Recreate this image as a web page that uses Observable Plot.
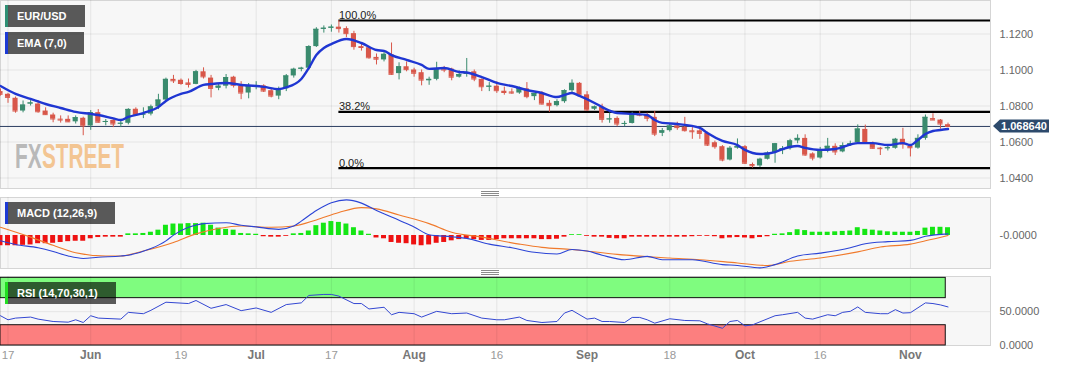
<!DOCTYPE html>
<html><head><meta charset="utf-8">
<script src="https://cdn.jsdelivr.net/npm/d3@7"></script>
<script src="https://cdn.jsdelivr.net/npm/@observablehq/plot@0.6"></script>
<style>
body{margin:0;background:#fff;font-family:"Liberation Sans",Arial,sans-serif;}
#chart{position:relative;width:1067px;height:370px;overflow:hidden;background:#fff;}
.tag{position:absolute;left:5px;height:22px;background:rgba(0,0,0,0.64);color:#fff;font:bold 11px "Liberation Sans",Arial,sans-serif;line-height:22px;padding-left:12px;box-sizing:border-box;white-space:nowrap;}
.tag i{position:absolute;left:0;top:0;bottom:0;width:3px;}
.grip{position:absolute;left:481px;width:18px;height:1px;background:#8a8a8a;}
</style></head>
<body><div id="chart"></div>
<script>
// ---------- data (EUR/USD daily, 2023) ----------
const dates = [
"2023-05-16","2023-05-17","2023-05-18","2023-05-19","2023-05-22","2023-05-23","2023-05-24","2023-05-25","2023-05-26","2023-05-29","2023-05-30","2023-05-31",
"2023-06-01","2023-06-02","2023-06-05","2023-06-06","2023-06-07","2023-06-08","2023-06-09","2023-06-12","2023-06-13","2023-06-14","2023-06-15","2023-06-16","2023-06-19","2023-06-20","2023-06-21","2023-06-22","2023-06-23","2023-06-26","2023-06-27","2023-06-28","2023-06-29","2023-06-30",
"2023-07-03","2023-07-04","2023-07-05","2023-07-06","2023-07-07","2023-07-10","2023-07-11","2023-07-12","2023-07-13","2023-07-14","2023-07-17","2023-07-18","2023-07-19","2023-07-20","2023-07-21","2023-07-24","2023-07-25","2023-07-26","2023-07-27","2023-07-28","2023-07-31",
"2023-08-01","2023-08-02","2023-08-03","2023-08-04","2023-08-07","2023-08-08","2023-08-09","2023-08-10","2023-08-11","2023-08-14","2023-08-15","2023-08-16","2023-08-17","2023-08-18","2023-08-21","2023-08-22","2023-08-23","2023-08-24","2023-08-25","2023-08-28","2023-08-29","2023-08-30","2023-08-31",
"2023-09-01","2023-09-04","2023-09-05","2023-09-06","2023-09-07","2023-09-08","2023-09-11","2023-09-12","2023-09-13","2023-09-14","2023-09-15","2023-09-18","2023-09-19","2023-09-20","2023-09-21","2023-09-22","2023-09-25","2023-09-26","2023-09-27","2023-09-28","2023-09-29",
"2023-10-02","2023-10-03","2023-10-04","2023-10-05","2023-10-06","2023-10-09","2023-10-10","2023-10-11","2023-10-12","2023-10-13","2023-10-16","2023-10-17","2023-10-18","2023-10-19","2023-10-20","2023-10-23","2023-10-24","2023-10-25","2023-10-26","2023-10-27","2023-10-30","2023-10-31",
"2023-11-01","2023-11-02","2023-11-03","2023-11-06","2023-11-07","2023-11-08"];

const open = [1.0880,1.0865,1.0843,1.0772,1.0811,1.0811,1.0772,1.0750,1.0727,1.0726,1.0712,1.0732,
1.0689,1.0763,1.0710,1.0720,1.0700,1.0704,1.0782,1.0750,1.0755,1.0795,1.0833,1.0948,1.0943,1.0928,1.0920,1.0990,1.0955,1.0898,1.0910,1.0960,1.0911,1.0872,
1.0908,1.0912,1.0885,1.0855,1.0895,1.0967,1.1004,1.1010,1.1130,1.1226,1.1232,1.1238,1.1230,1.1202,1.1130,1.1124,1.1070,1.1056,1.1085,1.0980,1.1018,
1.1000,1.0985,1.0940,1.0948,1.1012,1.1005,1.0960,1.0975,1.0990,1.0948,1.0905,1.0910,1.0882,1.0878,1.0872,1.0895,1.0852,1.0872,1.0815,1.0802,1.0824,1.0885,1.0926,
1.0862,1.0782,1.0795,1.0724,1.0731,1.0700,1.0703,1.0752,1.0752,1.0737,1.0648,1.0663,1.0690,1.0682,1.0662,1.0662,1.0648,1.0596,1.0574,1.0500,1.0566,
1.0574,1.0475,1.0467,1.0504,1.0540,1.0552,1.0563,1.0606,1.0620,1.0534,1.0511,1.0557,1.0576,1.0545,1.0580,1.0596,1.0670,1.0590,1.0566,1.0563,1.0565,1.0615,
1.0575,1.0566,1.0620,1.0730,1.0722,1.0696];
const high = [1.0895,1.0870,1.0850,1.0828,1.0830,1.0830,1.0790,1.0760,1.0745,1.0745,1.0745,1.0738,
1.0775,1.0780,1.0725,1.0730,1.0715,1.0785,1.0790,1.0790,1.0805,1.0865,1.0955,1.0970,1.0950,1.0950,1.0998,1.1012,1.0970,1.0925,1.0975,1.0965,1.0935,1.0925,
1.0935,1.0918,1.0895,1.0905,1.0975,1.1010,1.1015,1.1135,1.1235,1.1245,1.1250,1.1275,1.1240,1.1215,1.1145,1.1130,1.1089,1.1100,1.1150,1.1040,1.1045,
1.1010,1.1000,1.0960,1.1043,1.1020,1.1010,1.0995,1.1064,1.1000,1.0950,1.0930,1.0935,1.0905,1.0895,1.0905,1.0930,1.0865,1.0880,1.0830,1.0835,1.0890,1.0945,1.0930,
1.0880,1.0800,1.0810,1.0761,1.0740,1.0715,1.0765,1.0770,1.0760,1.0770,1.0675,1.0698,1.0710,1.0737,1.0680,1.0670,1.0655,1.0605,1.0580,1.0575,1.0617,
1.0580,1.0483,1.0510,1.0545,1.0592,1.0575,1.0615,1.0640,1.0640,1.0540,1.0570,1.0620,1.0590,1.0595,1.0605,1.0695,1.0694,1.0600,1.0570,1.0580,1.0620,1.0676,
1.0580,1.0640,1.0750,1.0757,1.0725,1.0705];
const low = [1.0855,1.0815,1.0760,1.0762,1.0800,1.0760,1.0748,1.0707,1.0705,1.0708,1.0700,1.0635,
1.0665,1.0705,1.0690,1.0680,1.0680,1.0695,1.0745,1.0730,1.0745,1.0780,1.0820,1.0925,1.0915,1.0900,1.0918,1.0950,1.0845,1.0885,1.0895,1.0900,1.0835,1.0840,
1.0890,1.0875,1.0845,1.0835,1.0880,1.0955,1.0990,1.1000,1.1125,1.1205,1.1210,1.1205,1.1180,1.1110,1.1105,1.1060,1.1028,1.1045,1.0970,1.0945,1.0990,
1.0960,1.0912,1.0915,1.0940,1.0985,1.0940,1.0955,1.0960,1.0935,1.0880,1.0880,1.0870,1.0860,1.0865,1.0865,1.0840,1.0830,1.0805,1.0765,1.0795,1.0815,1.0875,1.0850,
1.0770,1.0775,1.0705,1.0704,1.0685,1.0685,1.0700,1.0740,1.0712,1.0630,1.0630,1.0655,1.0665,1.0655,1.0615,1.0615,1.0575,1.0560,1.0490,1.0495,1.0560,
1.0475,1.0455,1.0458,1.0500,1.0482,1.0530,1.0555,1.0590,1.0520,1.0495,1.0505,1.0540,1.0525,1.0540,1.0575,1.0590,1.0587,1.0560,1.0525,1.0550,1.0560,1.0560,
1.0517,1.0560,1.0610,1.0720,1.0671,1.0680];
const close = [1.0865,1.0848,1.0772,1.0805,1.0817,1.0768,1.0752,1.0728,1.0722,1.0712,1.0735,1.0689,
1.0763,1.0710,1.0714,1.0700,1.0704,1.0781,1.0752,1.0755,1.0795,1.0833,1.0948,1.0940,1.0925,1.0920,1.0990,1.0962,1.0898,1.0910,1.0958,1.0915,1.0872,1.0910,
1.0912,1.0883,1.0855,1.0895,1.0967,1.1004,1.1010,1.1130,1.1226,1.1232,1.1238,1.1230,1.1202,1.1130,1.1125,1.1068,1.1060,1.1087,1.0976,1.1018,1.1002,
1.0982,1.0944,1.0948,1.1008,1.1000,1.0960,1.0975,1.0982,1.0950,1.0907,1.0910,1.0885,1.0875,1.0872,1.0898,1.0852,1.0870,1.0811,1.0802,1.0824,1.0885,1.0926,1.0862,
1.0778,1.0795,1.0726,1.0728,1.0700,1.0703,1.0756,1.0749,1.0732,1.0644,1.0662,1.0689,1.0680,1.0663,1.0657,1.0648,1.0583,1.0574,1.0500,1.0565,1.0574,
1.0482,1.0468,1.0504,1.0538,1.0590,1.0563,1.0606,1.0620,1.0528,1.0511,1.0557,1.0576,1.0545,1.0580,1.0590,1.0672,1.0592,1.0565,1.0563,1.0568,1.0615,1.0589,
1.0568,1.0620,1.0737,1.0722,1.0700,1.0686];

const ema7 = [["2023-05-16",1.0911],["2023-05-18",1.0867],["2023-05-22",1.0839],["2023-05-24",1.0811],["2023-05-26",1.0789],["2023-05-30",1.0767],["2023-06-01",1.0756],["2023-06-02",1.0750],["2023-06-06",1.0731],["2023-06-07",1.0722],["2023-06-08",1.0739],["2023-06-12",1.0761],["2023-06-14",1.0794],["2023-06-15",1.0828],["2023-06-19",1.0867],["2023-06-20",1.0878],["2023-06-22",1.0917],["2023-06-23",1.0922],["2023-06-27",1.0928],["2023-06-29",1.0917],["2023-07-03",1.0911],["2023-07-04",1.0906],["2023-07-06",1.0894],["2023-07-07",1.0903],["2023-07-11",1.0950],["2023-07-12",1.1011],["2023-07-13",1.1083],["2023-07-14",1.1122],["2023-07-17",1.1144],["2023-07-19",1.1172],["2023-07-21",1.1150],["2023-07-25",1.1111],["2023-07-26",1.1106],["2023-07-27",1.1083],["2023-07-31",1.1056],["2023-08-02",1.1028],["2023-08-03",1.1006],["2023-08-07",1.1011],["2023-08-09",1.0989],["2023-08-10",1.0986],["2023-08-14",1.0961],["2023-08-16",1.0928],["2023-08-18",1.0911],["2023-08-22",1.0889],["2023-08-24",1.0872],["2023-08-28",1.0850],["2023-08-29",1.0861],["2023-08-30",1.0872],["2023-08-31",1.0856],["2023-09-04",1.0817],["2023-09-05",1.0794],["2023-09-07",1.0761],["2023-09-11",1.0756],["2023-09-13",1.0750],["2023-09-14",1.0722],["2023-09-15",1.0706],["2023-09-19",1.0700],["2023-09-22",1.0678],["2023-09-25",1.0650],["2023-09-27",1.0606],["2023-09-29",1.0583],["2023-10-02",1.0556],["2023-10-04",1.0533],["2023-10-06",1.0544],["2023-10-09",1.0561],["2023-10-11",1.0578],["2023-10-12",1.0567],["2023-10-16",1.0556],["2023-10-18",1.0561],["2023-10-23",1.0594],["2023-10-25",1.0594],["2023-10-27",1.0583],["2023-10-31",1.0594],["2023-11-01",1.0583],["2023-11-02",1.0611],["2023-11-03",1.0644],["2023-11-06",1.0661],["2023-11-07",1.0667],["2023-11-08",1.0672]];

const macdLine = [["2023-05-16",-0.0013],["2023-05-18",-0.0022],["2023-05-23",-0.0030],["2023-05-25",-0.0039],["2023-05-29",-0.0050],["2023-05-31",-0.0056],["2023-06-02",-0.0053],["2023-06-07",-0.0050],["2023-06-08",-0.0048],["2023-06-13",-0.0032],["2023-06-15",-0.0013],["2023-06-16",0.0001],["2023-06-20",0.0020],["2023-06-22",0.0029],["2023-06-27",0.0031],["2023-06-29",0.0025],["2023-07-03",0.0021],["2023-07-06",0.0015],["2023-07-10",0.0023],["2023-07-11",0.0035],["2023-07-13",0.0061],["2023-07-17",0.0080],["2023-07-19",0.0087],["2023-07-21",0.0079],["2023-07-25",0.0061],["2023-07-28",0.0037],["2023-08-01",0.0021],["2023-08-03",0.0002],["2023-08-08",-0.0003],["2023-08-10",-0.0007],["2023-08-15",-0.0021],["2023-08-18",-0.0030],["2023-08-23",-0.0041],["2023-08-28",-0.0045],["2023-08-30",-0.0034],["2023-09-01",-0.0038],["2023-09-05",-0.0048],["2023-09-08",-0.0059],["2023-09-13",-0.0051],["2023-09-15",-0.0059],["2023-09-21",-0.0059],["2023-09-27",-0.0071],["2023-09-29",-0.0073],["2023-10-04",-0.0079],["2023-10-06",-0.0071],["2023-10-11",-0.0050],["2023-10-16",-0.0043],["2023-10-20",-0.0030],["2023-10-24",-0.0020],["2023-10-27",-0.0015],["2023-11-01",-0.0012],["2023-11-03",-0.0002],["2023-11-08",0.0004]];

const macdSignal = [["2023-05-16",0.0020],["2023-05-22",-0.0004],["2023-05-25",-0.0024],["2023-05-30",-0.0042],["2023-06-05",-0.0050],["2023-06-07",-0.0050],["2023-06-12",-0.0038],["2023-06-16",-0.0017],["2023-06-21",0.0004],["2023-06-26",0.0017],["2023-06-29",0.0023],["2023-07-05",0.0020],["2023-07-10",0.0023],["2023-07-13",0.0038],["2023-07-18",0.0056],["2023-07-21",0.0068],["2023-07-25",0.0065],["2023-07-28",0.0050],["2023-08-03",0.0029],["2023-08-08",0.0008],["2023-08-14",-0.0004],["2023-08-21",-0.0021],["2023-08-24",-0.0029],["2023-08-30",-0.0034],["2023-09-07",-0.0046],["2023-09-18",-0.0055],["2023-09-22",-0.0059],["2023-09-29",-0.0067],["2023-10-05",-0.0073],["2023-10-10",-0.0063],["2023-10-16",-0.0055],["2023-10-23",-0.0040],["2023-10-26",-0.0028],["2023-11-01",-0.0021],["2023-11-03",-0.0013],["2023-11-08",0.0000]];

const macdHist = [-0.0025,-0.0025,-0.0025,-0.0024,-0.0023,-0.0020,-0.0020,-0.0019,-0.0017,-0.0015,-0.0014,-0.0014,
-0.0008,-0.0005,-0.0004,-0.0004,-0.0004,0.0004,0.0004,0.0005,0.0008,0.0013,0.0025,0.0028,0.0028,0.0029,0.0029,0.0030,0.0025,0.0018,0.0015,0.0013,0.0005,0.0004,
0.0003,-0.0003,-0.0004,-0.0004,-0.0002,0.0004,0.0005,0.0011,0.0024,0.0030,0.0034,0.0032,0.0028,0.0019,0.0011,0.0003,-0.0006,-0.0008,-0.0017,-0.0019,-0.0020,
-0.0023,-0.0025,-0.0023,-0.0019,-0.0017,-0.0013,-0.0010,-0.0008,-0.0010,-0.0012,-0.0012,-0.0010,-0.0008,-0.0008,-0.0008,-0.0008,-0.0008,-0.0010,-0.0010,-0.0009,-0.0004,0.0002,0.0002,
-0.0002,-0.0004,-0.0004,-0.0007,-0.0008,-0.0008,-0.0004,-0.0004,-0.0004,-0.0004,-0.0004,-0.0004,-0.0004,-0.0004,-0.0003,-0.0002,-0.0002,-0.0003,-0.0008,-0.0006,-0.0005,
-0.0006,-0.0008,-0.0005,-0.0003,0.0003,0.0004,0.0007,0.0014,0.0012,0.0008,0.0008,0.0008,0.0009,0.0010,0.0011,0.0019,0.0015,0.0013,0.0011,0.0009,0.0008,0.0008,
0.0008,0.0010,0.0018,0.0020,0.0020,0.0019];

const rsi14 = [["2023-05-16",44],["2023-05-17",38],["2023-05-18",40.5],["2023-05-22",42],["2023-05-23",39],["2023-05-25",35.5],["2023-05-29",34.5],["2023-05-30",38],["2023-05-31",34],["2023-06-01",44],["2023-06-02",40.5],["2023-06-07",39],["2023-06-08",49],["2023-06-12",47],["2023-06-13",52],["2023-06-15",64],["2023-06-20",62],["2023-06-21",66.5],["2023-06-23",55],["2023-06-27",60.5],["2023-06-29",51.5],["2023-07-03",55.5],["2023-07-05",49],["2023-07-07",60.5],["2023-07-11",63],["2023-07-12",74],["2023-07-14",75.5],["2023-07-17",75.5],["2023-07-18",73],["2023-07-20",62],["2023-07-21",62],["2023-07-24",54],["2023-07-26",56.5],["2023-07-27",45.5],["2023-07-28",49],["2023-08-01",47],["2023-08-02",42],["2023-08-04",50.5],["2023-08-08",47],["2023-08-10",48],["2023-08-14",40.5],["2023-08-16",38],["2023-08-17",38],["2023-08-21",42],["2023-08-22",37],["2023-08-24",34],["2023-08-28",35.5],["2023-08-29",48],["2023-08-30",52],["2023-09-01",39],["2023-09-04",40.5],["2023-09-05",35.5],["2023-09-06",35.5],["2023-09-08",34],["2023-09-11",41.5],["2023-09-12",41.5],["2023-09-13",38],["2023-09-14",33],["2023-09-18",39.5],["2023-09-20",37],["2023-09-22",36.5],["2023-09-25",32],["2023-09-27",25.5],["2023-09-28",35.5],["2023-09-29",37],["2023-10-02",29],["2023-10-03",30.5],["2023-10-06",44],["2023-10-09",45.5],["2023-10-11",49],["2023-10-12",40.5],["2023-10-13",39],["2023-10-17",45.5],["2023-10-18",44],["2023-10-19",49],["2023-10-20",50.5],["2023-10-23",57],["2023-10-24",49],["2023-10-26",47],["2023-10-27",47],["2023-10-30",53],["2023-10-31",48],["2023-11-01",48.5],["2023-11-03",63],["2023-11-06",62],["2023-11-07",60],["2023-11-08",57]];

const tickDates  = ["2023-05-17","2023-06-01","2023-06-19","2023-07-03","2023-07-17","2023-08-01","2023-08-16","2023-09-01","2023-09-18","2023-10-02","2023-10-16","2023-11-01"];
const tickLabels = ["17","Jun","19","Jul","17","Aug","16","Sep","18","Oct","16","Nov"];
const tickIsMonth = [false,true,false,true,false,true,false,true,false,true,false,true];
const priceTicks = [1.04,1.06,1.08,1.10,1.12];
const fibLevels = [1.1275,1.0767,1.0455];
const fibLabels = ["100.0%","38.2%","0.0%"];
const fibStart = "2023-07-18";
const lastPrice = 1.068640;
const rsiBands = [[70,100,"#7ffc7f"],[0,30,"#fc7f7f"]];
const rsiTicks = [0,50];
const macdTicks = [0];

// ---------- helpers ----------
const idx = new Map(dates.map((d,i)=>[d,i]));
const GREEN = "#3a8b6e", RED = "#d8574a";
const candles = dates.map((d,i)=>({i,o:open[i],h:high[i],l:low[i],c:close[i]}));
const col = d => d.c >= d.o ? GREEN : RED;
const xDom = [0,131.65];
const FONT = "'Liberation Sans', Arial, sans-serif";
const ticksIdx = tickDates.map(d=>idx.get(d));
const GRID = {stroke:"#000", strokeOpacity:0.075};
const chart = document.getElementById("chart");
function base(h, mt, mb, yDom){
  return {width:1067,height:h,marginLeft:0,marginRight:77,marginTop:mt,marginBottom:mb,
    x:{domain:xDom,axis:null}, y:{domain:yDom,axis:null}, color:{type:"identity"},
    style:{background:"transparent",fontFamily:FONT,fontSize:"11px",overflow:"visible"}};
}
function place(el, top){ el.style.position="absolute"; el.style.left="0px"; el.style.top=top+"px"; chart.appendChild(el); return el; }
const fmt4 = d3.format(".4f");

// ---------- price panel ----------
const fib = fibLevels.map((v,k)=>({v,t:fibLabels[k]}));
const fs = idx.get(fibStart);
const pricePlot = Plot.plot({...base(190,0,2,[1.03417,1.13861]),
  marks:[
    Plot.frame({fill:"#f7f7f7",stroke:"#d5d5d5"}),
    Plot.ruleX(ticksIdx, GRID),
    Plot.ruleY(priceTicks, GRID),
    Plot.text(priceTicks,{y:d=>d,frameAnchor:"right",dx:9,textAnchor:"start",text:d=>fmt4(d),fill:"#666",fontSize:11}),
    Plot.ruleY([lastPrice],{stroke:"#2b3d60",strokeWidth:1}),
    Plot.ruleY(fib,{y:"v",x1:()=>fs,x2:()=>xDom[1],stroke:"#000",strokeWidth:2.2}),
    Plot.text(fib,{x:()=>fs,y:"v",text:"t",textAnchor:"start",lineAnchor:"bottom",dy:-1.5,fill:"#222",fontSize:11}),
    Plot.ruleX(candles,{x:"i",y1:"l",y2:"h",stroke:col,strokeWidth:1,clip:true}),
    Plot.rect(candles,{x1:d=>d.i-0.34,x2:d=>d.i+0.34,y1:"o",y2:"c",fill:col,clip:true}),
    Plot.ruleY(candles,{x1:d=>d.i-0.34,x2:d=>d.i+0.34,y:"c",stroke:col,clip:true}),
    Plot.line(ema7,{x:d=>idx.get(d[0]),y:d=>d[1],stroke:"#1f36d2",strokeWidth:2.4,curve:"monotone-x"})
  ]});
place(pricePlot,0);

// ---------- MACD panel ----------
const hist = macdHist.map((v,i)=>({i,v}));
const macdPlot = Plot.plot({...base(73,1,1,[-0.00805,0.00927]),
  marks:[
    Plot.frame({fill:"#f7f7f7",stroke:"#d5d5d5"}),
    Plot.ruleX(ticksIdx, GRID),
    Plot.text(macdTicks,{y:d=>d,frameAnchor:"right",dx:9,textAnchor:"start",text:()=>"-0.0000",fill:"#666",fontSize:11}),
    Plot.rect(hist,{x1:d=>d.i-0.33,x2:d=>d.i+0.33,y1:()=>0,y2:"v",fill:d=>d.v>=0?"#14e614":"#ee1111"}),
    Plot.line(macdSignal,{x:d=>idx.get(d[0]),y:d=>d[1],stroke:"#f07a2c",strokeWidth:1.1,curve:"monotone-x"}),
    Plot.line(macdLine,{x:d=>idx.get(d[0]),y:d=>d[1],stroke:"#2b44d6",strokeWidth:1.1,curve:"monotone-x"})
  ]});
place(macdPlot,196);

// ---------- RSI panel ----------
const bands = rsiBands.map(b=>({lo:b[0],hi:b[1],c:b[2]}));
const lastIdx = dates.length-1;
const rsiPlot = Plot.plot({...base(95,1,25,[0,102]),
  marks:[
    Plot.frame({fill:"#f7f7f7",stroke:"#d5d5d5"}),
    Plot.rect(bands,{x1:()=>0,x2:()=>lastIdx-0.3,y1:"lo",y2:"hi",fill:"c",stroke:"#111",strokeWidth:1}),
    Plot.ruleX(ticksIdx, GRID),
    Plot.ruleY([50], GRID),
    Plot.text(rsiTicks,{y:d=>d,frameAnchor:"right",dx:9,textAnchor:"start",text:d=>fmt4(d),fill:"#666",fontSize:11}),
    Plot.line(rsi14,{x:d=>idx.get(d[0]),y:d=>d[1],stroke:"#3347d2",strokeWidth:1}),
    Plot.text(ticksIdx.filter((d,k)=>tickIsMonth[k]),{x:d=>d,frameAnchor:"bottom",dy:13,text:d=>tickLabels[ticksIdx.indexOf(d)],fill:"#777",fontWeight:"bold",fontSize:12}),
    Plot.text(ticksIdx.map((d,k)=>k).filter(k=>!tickIsMonth[k]),{x:k=>ticksIdx[k],frameAnchor:"bottom",dy:13,text:k=>tickLabels[k],fill:"#9a9a9a",fontSize:11.5})
  ]});
place(rsiPlot,275);

// ---------- overlays ----------
const yLast = pricePlot.scale("y").apply(lastPrice);
const ns = "http://www.w3.org/2000/svg";
const ov = document.createElementNS(ns,"svg");
ov.setAttribute("width",1067); ov.setAttribute("height",370);
ov.style.cssText="position:absolute;left:0;top:0;pointer-events:none";
ov.innerHTML = `
 <g transform="translate(15,168) scale(1,1.72)" font-family="'Liberation Sans',Arial" font-weight="bold" font-size="20.8">
   <text x="0" y="0" fill="#b9b9b9">FX</text>
   <text x="27" y="0" fill="#f3c592">STREET</text>
 </g>
 <path d="M993,${yLast} L1000,${yLast-6.5} L1049,${yLast-6.5} L1049,${yLast+6.5} L1000,${yLast+6.5} Z" fill="#2d4a6c"/>
 <text x="1024" y="${yLast}" dy="0.36em" text-anchor="middle" font-family="${FONT}" font-weight="bold" font-size="11" fill="#fff">${lastPrice.toFixed(6)}</text>`;
chart.appendChild(ov);

function tag(text, top, w, barColor){
  const d=document.createElement("div"); d.className="tag";
  d.style.top=top+"px"; d.style.width=w+"px";
  d.innerHTML=`<i style="background:${barColor}"></i>${text}`;
  chart.appendChild(d);
}
tag("EUR/USD",5,80,"#2f8f74");
tag("EMA (7,0)",32,79,"#1d3ad4");
tag("MACD (12,26,9)",202,110,"#1d3ad4");
tag("RSI (14,70,30,1)",282,111,"#22dd22");

[191,193,195,270,272,274].forEach(y=>{const g=document.createElement("div");g.className="grip";g.style.top=y+"px";chart.appendChild(g);});
</script></body></html>
